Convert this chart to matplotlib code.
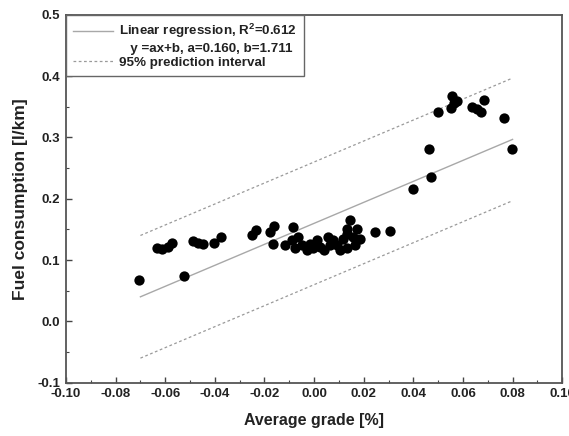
import matplotlib
matplotlib.use("Agg")
import matplotlib.pyplot as plt
import numpy as np
from matplotlib.lines import Line2D
from matplotlib.ticker import MultipleLocator

plt.rcParams['font.family'] = ['Liberation Sans', 'DejaVu Sans']
plt.rcParams['font.weight'] = 'bold'

# Measured points: average grade [-] vs fuel consumption [l/km]
grade = [-0.0706, -0.0523,
         -0.0634, -0.0614, -0.0588, -0.0574,
         -0.0487, -0.0467, -0.0449, -0.0403, -0.0375,
         -0.0251, -0.0235, -0.0177, -0.0161, -0.0167,
         -0.0085, -0.0117, -0.0090, -0.0077, -0.0063, -0.0050, -0.0030,
         -0.0016, -0.0003, 0.0011, 0.0024, 0.0038, 0.0058, 0.0065,
         0.0078, 0.0091, 0.0105, 0.0118, 0.0132, 0.0145, 0.0132, 0.0172,
         0.0158, 0.0185, 0.0132, 0.0165, 0.0246, 0.0304,
         0.0400, 0.0470, 0.0465, 0.0500, 0.0555, 0.0551, 0.0565, 0.0578,
         0.0636, 0.0656, 0.0672, 0.0685, 0.0767, 0.0797]
fuel = [0.068, 0.074,
        0.119, 0.118, 0.122, 0.128,
        0.132, 0.128, 0.126, 0.128, 0.137,
        0.141, 0.149, 0.1465, 0.156, 0.126,
        0.154, 0.1245, 0.1325, 0.119, 0.138, 0.1245, 0.116,
        0.127, 0.119, 0.1325, 0.1215, 0.116, 0.138, 0.1245,
        0.1325, 0.1245, 0.116, 0.135, 0.143, 0.165, 0.1515, 0.1515,
        0.138, 0.135, 0.119, 0.1245, 0.146, 0.147,
        0.216, 0.235, 0.281, 0.342, 0.367, 0.348, 0.356, 0.360,
        0.350, 0.346, 0.341, 0.361, 0.332, 0.281]

# regression as printed in the figure (y = 1.711 x + 0.160) and band half-width
slope = 1.711
intercept = 0.160
band = 0.10
fit_range = [-0.07, 0.08]

fig = plt.figure(figsize=(5.69, 4.36), dpi=100)
ax = fig.add_axes([0.116, 0.122, 0.872, 0.844])

xs = np.linspace(fit_range[0], fit_range[1], 50)
ys = slope * xs + intercept
ax.plot(xs, ys, color='#a8a8a8', lw=1.0, zorder=2)
ax.plot(xs, ys + band, color='#9a9a9a', lw=0.9, ls=(0, (2.2, 2.0)), zorder=2)
ax.plot(xs, ys - band, color='#9a9a9a', lw=0.9, ls=(0, (2.2, 2.0)), zorder=2)
ax.scatter(grade, fuel, s=55, color='black', zorder=3, linewidths=0)

ax.set_xlim(-0.10, 0.10)
ax.set_ylim(-0.1, 0.5)
ax.xaxis.set_minor_locator(MultipleLocator(0.01))
ax.yaxis.set_major_locator(MultipleLocator(0.1))
ax.yaxis.set_minor_locator(MultipleLocator(0.05))
ax.set_xticks(np.arange(-0.10, 0.101, 0.02))
ax.set_xticklabels(['%.2f' % v for v in np.arange(-0.10, 0.101, 0.02)])
ax.set_yticklabels(['%.1f' % v for v in ax.get_yticks()])

ax.tick_params(which='both', direction='in', top=False, right=False,
               colors='#444444', labelcolor='#222222', labelsize=9.5)
ax.tick_params(which='major', length=4, width=1.0, pad=4)
ax.tick_params(which='minor', length=2.5, width=0.8)
for s in ax.spines.values():
    s.set_color('#555555')
    s.set_linewidth(1.3)

ax.set_xlabel('Average grade [%]', fontsize=11.5, fontweight='bold', color='#222222', labelpad=9)
ax.set_ylabel('Fuel consumption [l/km]', fontsize=12.5, fontweight='bold', color='#222222', labelpad=7)

handles = [Line2D([], [], color='#a8a8a8', lw=1.0),
           Line2D([], [], color='none'),
           Line2D([], [], color='#9a9a9a', lw=0.9, ls=(0, (2.2, 2.0)))]
labels = ['Linear regression, R$^{\\mathregular{2}}$=0.612',
          '   y =ax+b, a=0.160, b=1.711',
          '95% prediction interval']
leg = ax.legend(handles, labels, loc='upper left', borderaxespad=0,
                handlelength=3.0, handletextpad=0.4, labelspacing=0.15,
                fancybox=False, framealpha=1, edgecolor='#666666',
                borderpad=0.55, prop={'weight': 'bold', 'size': 9.6})
leg.get_frame().set_linewidth(1.0)
for t in leg.get_texts():
    t.set_color('#222222')

fig.savefig('out.png', dpi=100)
